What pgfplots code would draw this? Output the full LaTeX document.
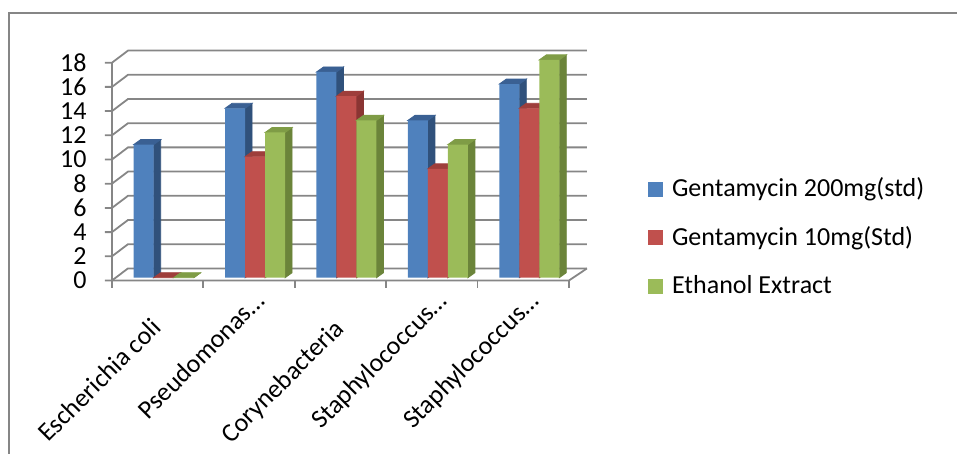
\documentclass[border=0pt]{standalone}
\usepackage{fontspec}
\setmainfont{Carlito}
\usepackage{pgfplots}
\pgfplotsset{compat=1.18}
\usepackage{pgfplotstable}

\definecolor{cB}{HTML}{4F81BD}\definecolor{cBs}{HTML}{30517B}\definecolor{cBt}{HTML}{3A6093}
\definecolor{cR}{HTML}{C0504D}\definecolor{cRs}{HTML}{8A3533}\definecolor{cRt}{HTML}{9E3E3B}
\definecolor{cG}{HTML}{9BBB59}\definecolor{cGs}{HTML}{6B843A}\definecolor{cGt}{HTML}{7F9C46}
\definecolor{gridc}{HTML}{868686}

\pgfplotstableread{
x g200 g10 eth
0 11 0 0
1 14 10 12
2 17 15 13
3 13 9 11
4 16 14 18
}\data

\pgfdeclareplotmark{emptymark}{}

\pgfplotsset{
  sqlegend/.style={legend image code/.code={\fill[##1] (0pt,-3.25pt) rectangle (7.5pt,4.25pt);}},
  face3d/.style n args={3}{
    forget plot, only marks, scatter, mark=emptymark,
    scatter/@pre marker code/.code={%
      \pgfmathsetlengthmacro\H{\hv*6.05pt}%
      \fill[#2] ({#1+5pt},0pt) -- ({#1+8.5pt},2.5pt) -- ({#1+8.5pt},{2.5pt-\H}) -- ({#1+5pt},{-\H}) -- cycle;
      \fill[#3] ({#1-5pt},0pt) -- ({#1-1.5pt},2.5pt) -- ({#1+8.5pt},2.5pt) -- ({#1+5pt},0pt) -- cycle;
    },
    scatter/@post marker code/.code={},
  },
}

\begin{document}
\begin{tikzpicture}
\path[use as bounding box] (-59pt,-88.15pt) rectangle (419.5pt,138.85pt);
\draw[gridc, line width=1pt] (-54.25pt,-100pt) -- (-54.25pt,132.35pt) -- (430pt,132.35pt);
\begin{axis}[
  scale only axis, width=228.5pt, height=108.9pt,
  xmin=-0.5, xmax=4.5, ymin=0, ymax=18,
  clip=false, clip marker paths=true,
  axis line style={draw=none}, tick style={draw=none},
  major tick length=0pt,
  ytick={0,2,...,18},
  xtick={0,...,4},
  xticklabels={{\raisebox{-5.1pt}{Escherichia coli\hspace{13.6pt}}}, Pseudomonas…, {\raisebox{-5.5pt}{Corynebacteria\hspace{14pt}}}, Staphylococcus…, Staphylococcus…},
  /pgf/number format/assume math mode=true,
  yticklabel style={font=\fontsize{13}{15}\selectfont, anchor=east, inner sep=0pt, xshift=-15.5pt, yshift=-1.4pt},
  xticklabel style={font=\fontsize{13}{15}\selectfont, inner sep=0pt, xshift=5.5pt, yshift=-12.4pt, rotate=45, anchor=base east},
  legend style={at={(1,1)}, anchor=north west, xshift=36.5pt, yshift=-58.55pt, draw=none, fill=none, inner sep=0pt,
     font=\fontsize{13}{15}\selectfont, row sep=11.25pt, column sep=4.35pt,
     nodes={inner sep=0pt, text height=9.75pt, text depth=3.25pt}},
  legend cell align=left,
]
% back wall grid, left side walls and front ticks
\pgfplotsinvokeforeach{0,2,...,18}{
  \draw[gridc, line width=0.9pt] ([xshift=-6.5pt,yshift=-1.4pt]axis cs:-0.5,#1) -- ([xshift=-3pt,yshift=-1.4pt]axis cs:-0.5,#1) -- ([xshift=5pt,yshift=4.65pt]axis cs:-0.5,#1) -- ([xshift=6pt,yshift=4.65pt]axis cs:4.5,#1);
}
\draw[gridc, line width=0.9pt] ([xshift=-3pt,yshift=-1.4pt]axis cs:-0.5,18) -- ([xshift=-3pt,yshift=-1.4pt]axis cs:-0.5,0) -- ([xshift=-3pt,yshift=-1.4pt]axis cs:4.5,0) -- ([xshift=6pt,yshift=4.65pt]axis cs:4.5,0);
\pgfplotsinvokeforeach{-0.5,0.5,1.5,2.5,3.5,4.5}{
  \draw[gridc, line width=0.9pt] ([xshift=-3pt,yshift=-1.4pt]axis cs:#1,0) -- ([xshift=-3pt,yshift=-4.9pt]axis cs:#1,0);
}
% series 1
\addplot[face3d={-10pt}{cBs}{cBt}, visualization depends on={\thisrow{g200} \as \hv}] table[x=x, y=g200] {\data};
\addplot[ybar, bar width=10pt, bar shift=-10pt, fill=cB, draw=none, sqlegend] table[x=x, y=g200] {\data};
\addlegendentry{Gentamycin 200mg(std)}
% series 2
\addplot[face3d={0pt}{cRs}{cRt}, visualization depends on={\thisrow{g10} \as \hv}] table[x=x, y=g10] {\data};
\addplot[ybar, bar width=10pt, bar shift=0pt, fill=cR, draw=none, sqlegend] table[x=x, y=g10] {\data};
\addlegendentry{Gentamycin 10mg(Std)}
% series 3
\addplot[face3d={10pt}{cGs}{cGt}, visualization depends on={\thisrow{eth} \as \hv}] table[x=x, y=eth] {\data};
\addplot[ybar, bar width=10pt, bar shift=10pt, fill=cG, draw=none, sqlegend] table[x=x, y=eth] {\data};
\addlegendentry{Ethanol Extract}
\end{axis}
\end{tikzpicture}
\end{document}
